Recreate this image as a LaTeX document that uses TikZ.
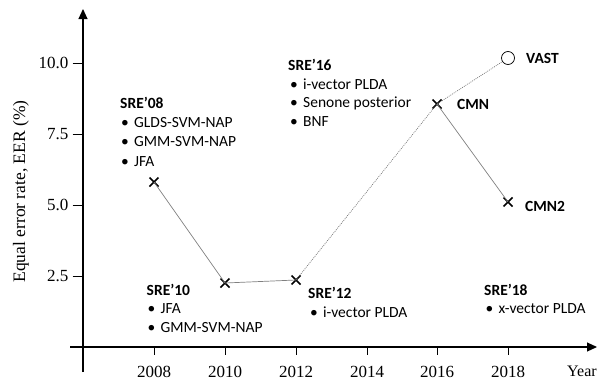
\documentclass[tikz,border=0pt]{standalone}
\usepackage{fontspec}
\setmainfont{Liberation Serif}
\newfontfamily\carlitofont{Carlito}
\usetikzlibrary{arrows.meta,shapes.misc}
\begin{document}
\begin{tikzpicture}[x=1pt,y=-1pt,
  axis/.style={line width=1.1pt,black},
  tickline/.style={line width=0.9pt,black},
  ticklab/.style={inner sep=0pt,font=\fontsize{17}{19}\selectfont},
  conn/.style={line width=0.7pt,draw=black!50},
  dotconn/.style={line width=0.7pt,draw=black!55,dash pattern=on 0.9pt off 1.1pt},
  xmark/.style={cross out,draw=black,line width=1.5pt,minimum size=7.5pt,inner sep=0pt},
  omark/.style={circle,draw=black,line width=0.7pt,minimum size=13pt,inner sep=0pt},
  ttl/.style={anchor=base west,inner sep=0pt,font=\carlitofont\bfseries\fontsize{15.5}{19}\selectfont},
  itm/.style={anchor=base west,inner sep=0pt,font=\carlitofont\fontsize{15.5}{19}\selectfont},
]
\useasboundingbox (0,0) rectangle (603,380);
% axes
\coordinate (yb) at (83,372);
\coordinate (yt) at (83,9);
\coordinate (xl) at (70,347);
\coordinate (xr) at (597,347);
\draw[axis,-{Triangle[length=10pt,width=9pt]}] (yb) -- (yt);
\draw[axis,-{Triangle[length=10pt,width=9pt]}] (xl) -- (xr);
% y ticks
\foreach \v/\yy in {10.0/63.5,7.5/134.6,5.0/205.5,2.5/276.4}{
  \draw[tickline] (72.5,\yy) -- (83,\yy);
  \node[ticklab,anchor=east] at (68.5,\yy-0.5) {\v};
}
% x ticks
\foreach \yr/\xx in {2008/154,2010/225,2012/296,2014/367,2016/437,2018/508}{
  \draw[tickline] (\xx,347) -- (\xx,355);
  \node[ticklab,anchor=north] at (\xx,366) {\yr};
}
\node[ticklab,anchor=base west,font=\fontsize{16}{18}\selectfont] (year) at (567,376.5) {Year};
\node[ticklab,rotate=90,font=\fontsize{17.5}{19}\selectfont] (ylab) at (21,191.5) {Equal error rate, EER (\%)};
% data points
\node[xmark] (p08) at (154,182) {};
\node[xmark] (p10) at (225,283) {};
\node[xmark] (p12) at (296,280) {};
\node[xmark] (p16) at (437,104) {};
\node[xmark] (p18) at (508,202) {};
\node[omark] (vast) at (508,58) {};
% connectors
\draw[conn] (p08.center) -- (p10.center) -- (p12.center);
\draw[dotconn] (p12.center) -- (p16.center);
\draw[conn] (p16.center) -- (p18.center);
\draw[dotconn] (p16.center) -- (vast);
% point labels
\node[ttl] (lcmn) at (457,109) {CMN};
\node[ttl] (lvast) at (526,63) {VAST};
\node[ttl] (lcmn2) at (525,211) {CMN2};
% SRE'08
\node[ttl] (s08) at (120,108.5) {SRE’08};
\node[itm] (s08a) at (121,127) {\makebox[13pt][l]{•}GLDS-SVM-NAP};
\node[itm] (s08b) at (121,146.5) {\makebox[13pt][l]{•}GMM-SVM-NAP};
\node[itm] (s08c) at (121,166) {\makebox[13pt][l]{•}JFA};
% SRE'16
\node[ttl] (s16) at (288,70) {SRE’16};
\node[itm] (s16a) at (290,89) {\makebox[13pt][l]{•}i-vector PLDA};
\node[itm] (s16b) at (290,107.5) {\makebox[13pt][l]{•}Senone posterior};
\node[itm] (s16c) at (290,126) {\makebox[13pt][l]{•}BNF};
% SRE'10
\node[ttl] (s10) at (146.5,295) {SRE’10};
\node[itm] (s10a) at (147.5,313.5) {\makebox[13pt][l]{•}JFA};
\node[itm] (s10b) at (147.5,332) {\makebox[13pt][l]{•}GMM-SVM-NAP};
% SRE'12
\node[ttl] (s12) at (308,298) {SRE’12};
\node[itm] (s12a) at (310,317) {\makebox[13pt][l]{•}i-vector PLDA};
% SRE'18
\node[ttl] (s18) at (484,295) {SRE’18};
\node[itm] (s18a) at (485.5,313.5) {\makebox[13pt][l]{•}x-vector PLDA};
\end{tikzpicture}
\end{document}
